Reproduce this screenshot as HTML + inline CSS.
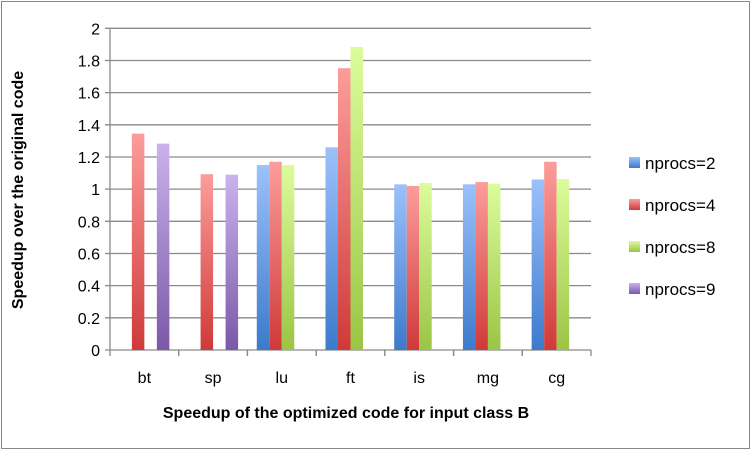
<!DOCTYPE html>
<html><head><meta charset="utf-8"><style>
body{margin:0;background:#fff;}
svg text{font-family:"Liberation Sans",sans-serif;}
</style></head><body>
<svg width="753" height="452" xmlns="http://www.w3.org/2000/svg">
<defs>
<linearGradient id="g0" x1="0" y1="0" x2="0" y2="1"><stop offset="0" stop-color="#9cc1fb"/><stop offset="1" stop-color="#3c7acb"/></linearGradient>
<linearGradient id="g1" x1="0" y1="0" x2="0" y2="1"><stop offset="0" stop-color="#fc9d9b"/><stop offset="1" stop-color="#cf3a39"/></linearGradient>
<linearGradient id="g2" x1="0" y1="0" x2="0" y2="1"><stop offset="0" stop-color="#dcfc9c"/><stop offset="1" stop-color="#9bc545"/></linearGradient>
<linearGradient id="g3" x1="0" y1="0" x2="0" y2="1"><stop offset="0" stop-color="#cab3ec"/><stop offset="1" stop-color="#7b58a8"/></linearGradient>
</defs>
<rect x="1.5" y="1.5" width="748" height="447" fill="#fff" stroke="#888"/>
<g id="grid"></g><g id="bars"></g><g id="axes"></g><g id="legend"></g>
<text x="23" y="190" transform="rotate(-90 23 190)" text-anchor="middle" font-size="16" font-weight="bold">Speedup over the original code</text>
<text x="346" y="418" text-anchor="middle" font-size="16" font-weight="bold">Speedup of the optimized code for input class B</text>
</svg>
<script>
const categories=["bt","sp","lu","ft","is","mg","cg"];
const seriesNames=["nprocs=2","nprocs=4","nprocs=8","nprocs=9"];
const s2=[null,null,1.15,1.26,1.03,1.03,1.06];
const s4=[1.345,1.093,1.17,1.752,1.02,1.044,1.17];
const s8=[null,null,1.15,1.884,1.038,1.034,1.063];
const s9=[1.283,1.09,null,null,null,null,null];
const yTicks=["0","0.2","0.4","0.6","0.8","1","1.2","1.4","1.6","1.8","2"];
const series=[s2,s4,s8,s9];
const NS="http://www.w3.org/2000/svg";
const X0=110,X1=591,Y0=350,Y1=28.3,YMAX=2;
const gw=(X1-X0)/categories.length,bw=12.5,pad=(gw-4*bw)/2;
const y=v=>Y0-(v/YMAX)*(Y0-Y1);
function mk(t,a,p){const e=document.createElementNS(NS,t);for(const k in a)e.setAttribute(k,a[k]);p.appendChild(e);return e;}
const grid=document.getElementById('grid'),axes=document.getElementById('axes'),bars=document.getElementById('bars'),leg=document.getElementById('legend');
yTicks.forEach((t,i)=>{const v=parseFloat(t),yy=y(v);
 const l=mk('line',{x1:X0-5,x2:X1,y1:yy,y2:yy,stroke:'#8a8a8a','stroke-width':1.3},grid);
 
 
 const tx=mk('text',{x:X0-10,y:yy+6,'text-anchor':'end','font-size':16},axes);tx.textContent=t;
 
 
});
mk('line',{x1:X0,x2:X0,y1:Y1,y2:Y0,stroke:'#8a8a8a','stroke-width':1.3},axes);
categories.forEach((c,i)=>{const gx=X0+i*gw;
 mk('line',{x1:gx+gw,x2:gx+gw,y1:Y0,y2:Y0+6,stroke:'#8a8a8a','stroke-width':1.3},axes);
 mk('line',{x1:gx,x2:gx,y1:Y0,y2:Y0+6,stroke:'#8a8a8a','stroke-width':1.3},axes);
 const tx=mk('text',{x:gx+gw/2,y:Y0+33,'text-anchor':'middle','font-size':16},axes);tx.textContent=c;
 
 
 series.forEach((s,j)=>{const v=s[i];if(v==null)return;
  const r=mk('rect',{x:gx+pad+j*bw,y:y(v),width:bw,height:Y0-y(v),fill:'url(#g'+j+')'},bars);
  
  
 });
});
seriesNames.forEach((n,j)=>{const cy=163+j*42;
 const r=mk('rect',{x:629,y:cy-6,width:11,height:11,fill:'url(#g'+j+')'},leg);
 
 
 const t=mk('text',{x:645,y:cy+6,'font-size':17},leg);t.textContent=n;
 
 
});
</script>
</body></html>
